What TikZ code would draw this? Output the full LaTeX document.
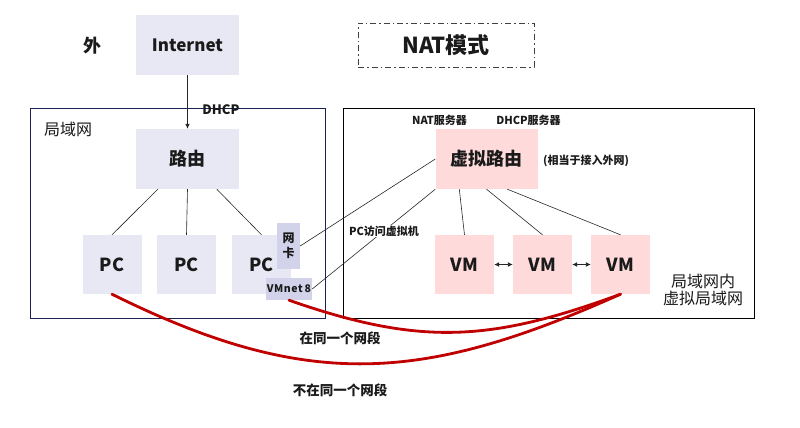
\documentclass[tikz,border=0pt]{standalone}
\usepackage{fontspec}
\setmainfont{Noto Sans CJK SC}
\usetikzlibrary{arrows.meta,calc}
\definecolor{lav}{HTML}{E8E8F4}
\definecolor{lavd}{HTML}{D2D3EA}
\definecolor{pinkb}{HTML}{FFDADB}
\definecolor{redc}{HTML}{C00000}
\definecolor{navy}{HTML}{1B2150}
\definecolor{txtc}{HTML}{1A1A1A}
\newcommand\fsz[1]{\fontsize{#1}{#1}\selectfont}
\begin{document}
\begin{tikzpicture}[x=1pt,y=-1pt,
  every node/.style={text=txtc, inner sep=0pt},
  lbox/.style={fill=lav, minimum width=103pt, minimum height=60pt, font=\fsz{17}\bfseries},
  pcbox/.style={fill=lav, minimum width=59pt, minimum height=59pt, font=\fsz{18}\bfseries},
  vmbox/.style={fill=pinkb, minimum width=59pt, minimum height=59pt, font=\fsz{18}\bfseries},
  conn/.style={draw=black!85, line width=0.6pt},
  seg/.style={draw=redc, line width=2.8pt, line cap=round},
  lbl/.style={font=\fsz{11}\bfseries},
  tip/.style={-{Latex[length=5pt,width=4.5pt]}},
  dtip/.style={{Latex[length=5pt,width=5pt]}-{Latex[length=5pt,width=5pt]}}
]
\useasboundingbox (0,0) rectangle (800,428);
% frames
\node[draw=navy, line width=0.8pt, minimum width=295pt, minimum height=210pt] (lan) at (177.5,213) {};
\node[draw=black, line width=0.8pt, minimum width=411pt, minimum height=210pt] (vlan) at (548.5,213) {};
\node[draw=black!75, line width=0.8pt, dash pattern=on 6pt off 3pt on 1.5pt off 3pt,
  minimum width=176pt, minimum height=44pt, font=\fsz{22}\bfseries] (mode) at (446,45) {NAT模式};
% left side
\node[font=\fsz{18}\bfseries] (wai) at (92,46) {外};
\node[lbox] (inet) at (187.5,45) {Internet};
\node[font=\fsz{16}] (lanlbl) at (68,129) {局域网};
\node[lbox, font=\fsz{18}\bfseries] (router) at (187.5,159) {路由};
\node[font=\fsz{13}\bfseries] (dhcp) at (221,110) {DHCP};
\node[pcbox] (pc1) at (112,264.5) {PC};
\node[pcbox] (pc2) at (186.5,264.5) {PC};
\node[pcbox] (pc3) at (261.5,264.5) {PC};
\node[fill=lavd, minimum width=23pt, minimum height=46pt, align=center,
  font=\fsz{12}\bfseries] (nic) at (288.5,246) {网\\[3pt]卡};
\node[fill=lavd, minimum width=46pt, minimum height=22pt, font=\fsz{10.5}\bfseries] (vmnet) at (289,289) {V\kern0.5pt M\kern0.5pt n\kern0.5pt e\kern0.5pt t\kern2pt 8};
% right side
\node[lbl] (natsrv) at (439.5,120) {NAT服务器};
\node[lbl] (dhcpsrv) at (528.5,120) {DHCP服务器};
\node[fill=pinkb, minimum width=102pt, minimum height=60pt, font=\fsz{18}\bfseries] (vr) at (486.5,159) {虚拟路由};
\node[lbl] (note) at (586,160.5) {(相当于接入外网)};
\node[vmbox] (vm1) at (464.5,264.5) {VM};
\node[vmbox] (vm2) at (542.5,264.5) {VM};
\node[vmbox] (vm3) at (620.5,264.5) {VM};
\node[font=\fsz{16}, align=center] (vlanlbl) at (703,289.5) {局域网内\\[1pt]虚拟局域网};
% connectors
\draw[conn, tip] (inet) -- (router);
\draw[conn] ($(router.south west)+(22,0)$) -- (pc1.north);
\draw[conn] (router.south) -- (pc2.north);
\draw[conn] ($(router.south west)+(81,0)$) -- (pc3.north);
\draw[conn] (vr.west) -- (nic.east);
\draw[conn] (vr.south west) -- (vmnet.east);
\draw[conn] ($(vr.south west)+(24,0)$) -- (vm1.north);
\draw[conn] (vr.south) -- (vm2.north);
\draw[conn] ($(vr.south west)+(72,0)$) -- (vm3.north);
\draw[conn, dtip, line width=0.9pt] (vm1.east) -- (vm2.west);
\draw[conn, dtip, line width=0.9pt] (vm2.east) -- (vm3.west);
\node[lbl, fill=white, inner sep=1pt] (pcvm) at (384,231) {PC访问虚拟机};
% segments
\draw[seg] (pc1.south) .. controls (309,392) and (424,382) .. (vm3.south);
\draw[seg] (vmnet.south) .. controls (420,346) and (490,342) .. (vm3.south);
\node[font=\fsz{13.5}\bfseries] (same) at (340,338) {在同一个网段};
\node[font=\fsz{13.5}\bfseries] (diff) at (340,390) {不在同一个网段};
\end{tikzpicture}
\end{document}
